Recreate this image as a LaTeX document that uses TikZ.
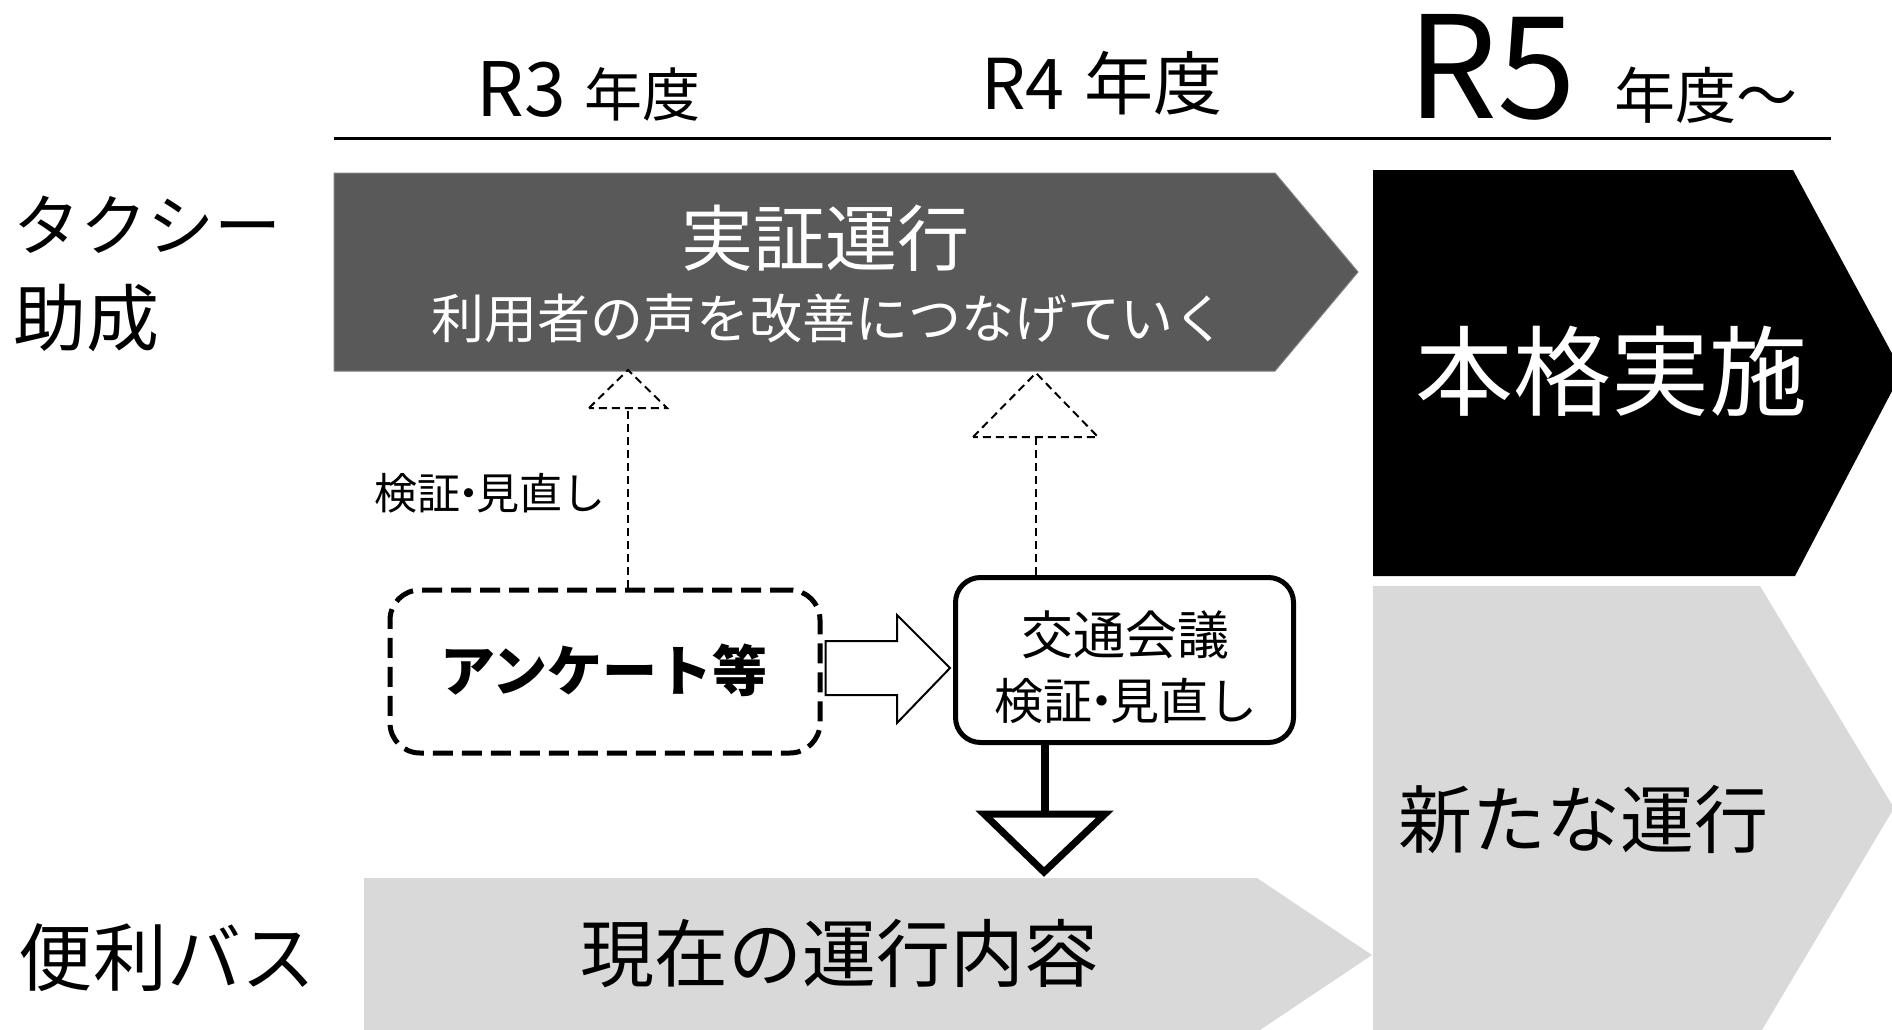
\documentclass[tikz,border=0pt]{standalone}
\usepackage{fontspec}
\setmainfont{Noto Sans CJK JP}
\usetikzlibrary{calc}
\definecolor{dgray}{HTML}{595959}
\definecolor{lgray}{HTML}{D9D9D9}
\newcommand\fs[1]{\fontsize{#1}{#1}\selectfont}
\newcommand\ndot{\makebox[0.35em]{・}}
\begin{document}
\begin{tikzpicture}[x=1pt,y=-1pt,
  txt/.style={inner sep=0pt, outer sep=0pt, anchor=base},
  ctxt/.style={inner sep=0pt, outer sep=0pt, anchor=center},
  dashbox/.style={draw, line width=5, dash pattern=on 20 off 9, rounded corners=30, fill=white, inner sep=0pt},
  solidbox/.style={draw, line width=5, rounded corners=25, fill=white, inner sep=0pt},
  thindash/.style={line width=2, dash pattern=on 8 off 5},
  opentri/.style={thindash, fill=white, line join=miter},
]
\useasboundingbox (0,0) rectangle (1892,1030);
\clip (0,0) rectangle (1892,1030);

% header
\node[txt] (r3) at (521,117) {\fs{75}R3};
\node[txt] (r3y) at (642,117) {\fs{58}年度};
\node[txt] (r4) at (1023,110) {\fs{70}R4};
\node[txt] (r4y) at (1153,110) {\fs{69}年度};
\node[txt] (r5) at (1492,119) {\fs{142}R5};
\node[txt] (r5y) at (1706,119) {\fs{61}年度～};
\draw[line width=3] (334,139) -- (1831,139);

% row labels
\node[txt, anchor=base west] (taxi1) at (13,250) {\fs{67}タクシー};
\node[txt, anchor=base west] (taxi2) at (13,345) {\fs{73}助成};
\node[txt] (bus) at (167,985) {\fs{74}便利バス};

% chevrons
\fill[dgray] (334,173) -- (1275,173) -- (1358,272) -- (1275,371) -- (334,371) -- cycle;
\draw[gray, line width=1] (334,173) -- (1275,173) -- (1358,272) -- (1275,371) -- (334,371) -- cycle;
\fill[black] (1373,170) -- (1793,170) -- (1902,372) -- (1795,576) -- (1373,576) -- cycle;
\fill[lgray] (1373,586) -- (1760,586) -- (1894,808) -- (1762,1030) -- (1373,1030) -- cycle;
\fill[lgray] (364,878) -- (1257,878) -- (1372,955) -- (1257,1032) -- (364,1032) -- cycle;

\node[ctxt, white] (jissho) at (825,238) {\fs{72}実証運行};
\node[ctxt, white] (koe) at (829,318) {\fs{53}利用者の声を改善につなげていく};
\node[ctxt, white] (honkaku) at (1611,371) {\fs{98}本格実施};
\node[ctxt] (arata) at (1583,819) {\fs{74}新たな運行};
\node[ctxt] (genzai) at (839,954) {\fs{74}現在の運行内容};

% boxes
\node[dashbox, minimum width=430, minimum height=163] (enq) at (605,671.5) {};
\node[ctxt] (enqt) at (604,670) {\fs{55}\bfseries アンケート等};
\node[solidbox, minimum width=338, minimum height=165] (kotsu) at (1124.5,660) {};
\node[ctxt] (kotsu1) at (1125,635) {\fs{52}交通会議};
\node[ctxt] (kotsu2) at (1126,701) {\fs{49}検証\ndot 見直し};

% side label
\node[ctxt] (kensho) at (490,493) {\fs{43}検証\ndot 見直し};

% dashed feedback connectors with open triangles
\coordinate (t1) at (628,408);
\coordinate (t2) at (1036,437);
\draw[thindash] (enq.north -| t1) -- (t1);
\draw[opentri] ($(t1)+(-39,0)$) -- ($(t1)+(0,-38)$) -- ($(t1)+(39,0)$) -- cycle;
\draw[thindash] (kotsu.north -| t2) -- (t2);
\draw[opentri] ($(t2)+(-63,0)$) -- ($(t2)+(0,-64)$) -- ($(t2)+(62,0)$) -- cycle;

% block arrow from enq to kotsu
\coordinate (ba) at (enq.east |- 0,668);
\coordinate (bb) at (kotsu.west |- 0,668);
\draw[line width=2, fill=white, line join=miter]
  ($(ba)+(3,-27)$) -- (897,641) -- (897,615) -- ($(bb)+(-3,0)$) -- (897,723) -- (897,695) -- ($(ba)+(3,27)$) -- cycle;

% down connector
\coordinate (t3) at (1045,814);
\draw[line width=8] (kotsu.south -| t3) -- (t3);
\draw[line width=7, fill=white, line join=miter] (984,814) -- (1105,814) -- (1044,872) -- cycle;
\end{tikzpicture}
\end{document}
